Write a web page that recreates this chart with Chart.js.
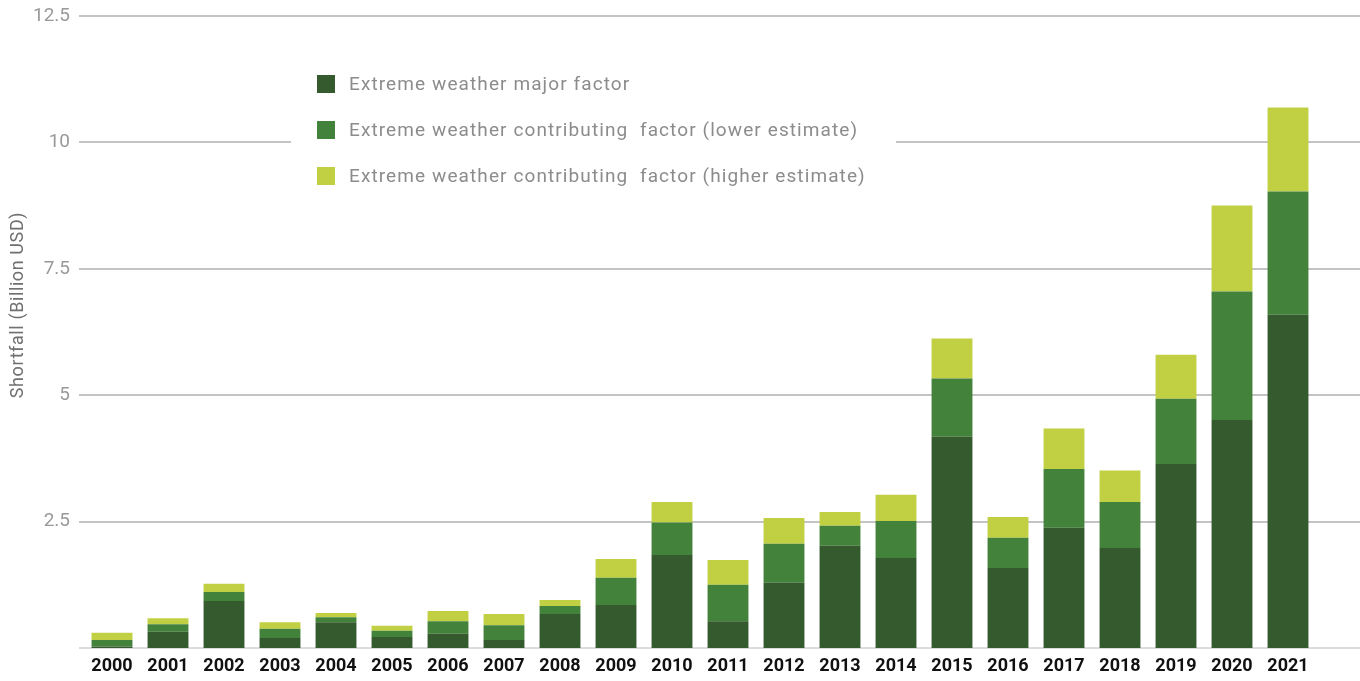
<!DOCTYPE html>
<html>
<head>
<meta charset="utf-8">
<script src="https://cdn.jsdelivr.net/npm/chart.js@4/dist/chart.umd.min.js"></script>
<style>
  html, body { margin: 0; padding: 0; background: #fff; }
  #wrap { width: 1360px; height: 681px; position: relative; }
</style>
</head>
<body>
<div id="wrap"><canvas id="chart"></canvas></div>
<script>
const years = ['2000','2001','2002','2003','2004','2005','2006','2007','2008','2009','2010',
               '2011','2012','2013','2014','2015','2016','2017','2018','2019','2020','2021'];

/* segment heights, billion USD (stacked) */
const majorFactor = [0.03, 0.32, 0.93, 0.20, 0.51, 0.22, 0.28, 0.16, 0.67, 0.85, 1.84,
                     0.53, 1.29, 2.02, 1.78, 4.18, 1.58, 2.38, 1.98, 3.64, 4.51, 6.59];
const contribLower = [0.13, 0.15, 0.18, 0.18, 0.10, 0.12, 0.25, 0.29, 0.16, 0.54, 0.64,
                      0.72, 0.77, 0.40, 0.73, 1.15, 0.60, 1.16, 0.91, 1.29, 2.54, 2.44];
const contribHigher = [0.14, 0.12, 0.16, 0.13, 0.08, 0.10, 0.20, 0.22, 0.12, 0.37, 0.41,
                       0.49, 0.51, 0.27, 0.52, 0.79, 0.41, 0.80, 0.62, 0.87, 1.70, 1.66];

const seriesNames = [
  'Extreme weather major factor',
  'Extreme weather contributing  factor (lower estimate)',
  'Extreme weather contributing  factor (higher estimate)',
];
const seriesColors = ['#345a2e', '#43823b', '#c0d042'];

const yTicks = [0, 2.5, 5, 7.5, 10, 12.5];
const yTitle = 'Shortfall (Billion USD)';

const FONT = 'Roboto, "DejaVu Sans", sans-serif';

/* grid lines run past the plot area, legend sits on a white box */
const decor = {
  id: 'decor',
  beforeDatasetsDraw(chart) {
    const { ctx } = chart;
    const y = chart.scales.y;
    ctx.save();
    yTicks.forEach(v => {
      const py = Math.round(y.getPixelForValue(v));
      ctx.strokeStyle = v === 0 ? '#dcdcdc' : '#c4c4c4';
      ctx.lineWidth = 2;
      ctx.beginPath();
      ctx.moveTo(79, py);
      ctx.lineTo(chart.width, py);
      ctx.stroke();
    });
    ctx.restore();
  },
  afterDraw(chart) {
    const { ctx } = chart;
    ctx.save();
    ctx.fillStyle = '#fff';
    ctx.fillRect(291, 60, 605, 140);
    const rowsY = [84, 130, 176];
    ctx.letterSpacing = '1.1px';
    chart.data.datasets.forEach((ds, i) => {
      ctx.fillStyle = ds.backgroundColor;
      ctx.fillRect(317, rowsY[i] - 9, 18, 18);
      ctx.fillStyle = '#8c8c8c';
      ctx.font = '19px ' + FONT;
      ctx.textBaseline = 'middle';
      ctx.textAlign = 'left';
      ctx.fillText(ds.label, 349, rowsY[i] + 1);
    });
    // y axis title
    ctx.letterSpacing = '0.6px';
    ctx.translate(18, 305);
    ctx.rotate(-Math.PI / 2);
    ctx.fillStyle = '#707070';
    ctx.font = '18px ' + FONT;
    ctx.textAlign = 'center';
    ctx.textBaseline = 'middle';
    ctx.fillText(yTitle, 0, 0);
    ctx.restore();
  }
};

new Chart(document.getElementById('chart'), {
  type: 'bar',
  data: {
    labels: years,
    datasets: [majorFactor, contribLower, contribHigher].map((d, i) => ({
      label: seriesNames[i],
      data: d,
      backgroundColor: seriesColors[i],
      borderWidth: 0,
      barPercentage: 0.73,
      categoryPercentage: 1.0,
    })),
  },
  options: {
    responsive: true,
    maintainAspectRatio: false,
    animation: false,
    layout: { padding: { top: 16, right: 44, bottom: 3, left: 0 } },
    plugins: {
      legend: { display: false },
      tooltip: { enabled: false },
    },
    scales: {
      x: {
        stacked: true,
        afterFit: s => { s.height = 30; s.paddingLeft = 0; s.paddingRight = 0; },
        grid: { display: false, drawTicks: false },
        border: { display: false },
        ticks: {
          color: '#111',
          font: { family: FONT, size: 18, weight: 'bold' },
          padding: 8,
          maxRotation: 0,
          autoSkip: false,
        },
      },
      y: {
        stacked: true,
        min: 0,
        max: 12.5,
        afterFit: s => { s.width = 84; s.paddingTop = 0; s.paddingBottom = 0; },
        afterBuildTicks: s => { s.ticks = yTicks.map(v => ({ value: v })); },
        grid: { display: false, drawTicks: false },
        border: { display: false },
        ticks: {
          color: '#999',
          font: { family: FONT, size: 19 },
          padding: 14,
          callback: v => (v === 0 ? '' : String(v)),
        },
      },
    },
  },
  plugins: [decor],
});
</script>
</body>
</html>
